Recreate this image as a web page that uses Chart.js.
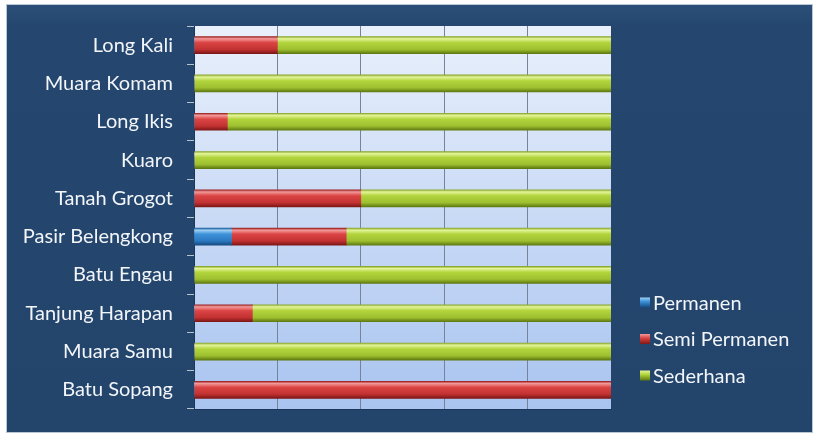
<!DOCTYPE html>
<html>
<head>
<meta charset="utf-8">
<script src="https://cdn.jsdelivr.net/npm/chart.js@4.4.1/dist/chart.umd.min.js"></script>
<style>
html,body{margin:0;padding:0;background:#ffffff;}
#wrap{position:absolute;left:0;top:0;width:815px;height:435px;}
</style>
</head>
<body>
<div id="wrap"><canvas id="c" width="815" height="435"></canvas></div>
<script>
const categories = ["Long Kali","Muara Komam","Long Ikis","Kuaro","Tanah Grogot","Pasir Belengkong","Batu Engau","Tanjung Harapan","Muara Samu","Batu Sopang"];
const seriesNames = ["Permanen","Semi Permanen","Sederhana"];
const permanen     = [0, 0, 0, 0, 0, 9, 0, 0, 0, 0];
const semiPermanen = [20, 0, 8, 0, 40, 27.5, 0, 14, 0, 100];
const sederhana    = [80, 100, 92, 100, 60, 63.5, 100, 86, 100, 0];
const xTicks = [0, 20, 40, 60, 80, 100];

const palettes = [
  {top:'#1d5f9e', hi:'#9fd0f5', mid:'#3d92da', low:'#2a78c0', bot:'#164a80'},
  {top:'#9c2020', hi:'#f39a9a', mid:'#dc4444', low:'#c23232', bot:'#7e1616'},
  {top:'#8aa82a', hi:'#e4f59a', mid:'#b2d43c', low:'#9ec030', bot:'#5e7a10'}
];
const BAR_H = 17;

function barGradient(ctx, p){
  const chart = ctx.chart;
  const ys = chart.scales && chart.scales.y;
  if(!chart.chartArea || !ys) return p.mid;
  const yc = ys.getPixelForValue(ctx.dataIndex);
  const g = chart.ctx.createLinearGradient(0, yc - BAR_H/2, 0, yc + BAR_H/2);
  g.addColorStop(0, p.top);
  g.addColorStop(0.12, p.hi);
  g.addColorStop(0.35, p.mid);
  g.addColorStop(0.75, p.low);
  g.addColorStop(1, p.bot);
  return g;
}

const panelPlugin = {
  id:'panel',
  beforeDraw(chart){
    const c = chart.ctx, a = chart.chartArea;
    c.save();
    c.fillStyle = '#ffffff';
    c.fillRect(0,0,chart.width,chart.height);
    const pg = c.createLinearGradient(0,5,0,432);
    pg.addColorStop(0,'#2b4f78');
    pg.addColorStop(0.05,'#25476f');
    pg.addColorStop(1,'#23446b');
    c.fillStyle = pg;
    c.fillRect(7,5,805,427);
    c.strokeStyle = '#b9c6d3';
    c.lineWidth = 1;
    c.strokeRect(6.5,4.5,806,428);
    const g = c.createLinearGradient(0,a.top,0,a.bottom);
    g.addColorStop(0,'#e9f0fb');
    g.addColorStop(1,'#a9c4f0');
    c.fillStyle = g;
    c.fillRect(a.left,a.top,a.right-a.left,a.bottom-a.top);
    c.restore();
  },
  afterDraw(chart){
    const c = chart.ctx;
    const ys = [302.5, 339, 375.5];
    c.save();
    c.font = '20px Lato';
    c.textBaseline = 'middle';
    c.textAlign = 'left';
    chart.data.datasets.forEach((ds,i)=>{
      const p = palettes[i];
      const y = ys[i];
      const g = c.createLinearGradient(0,y-5,0,y+5);
      g.addColorStop(0,p.hi); g.addColorStop(0.4,p.mid); g.addColorStop(1,p.bot);
      c.fillStyle = g;
      c.fillRect(640, y-5, 10, 10);
      c.fillStyle = '#f2f5f9';
      c.fillText(ds.label, 653, y+1);
    });
    c.restore();
  }
};

const datasets = [permanen, semiPermanen, sederhana].map((arr,i)=>({
  label: seriesNames[i],
  data: arr,
  backgroundColor: (ctx)=>barGradient(ctx, palettes[i]),
  borderWidth: 0,
  barThickness: BAR_H
}));

new Chart(document.getElementById('c'), {
  type:'bar',
  data:{labels:categories, datasets},
  options:{
    indexAxis:'y',
    responsive:false,
    animation:false,
    devicePixelRatio:1,
    layout:{padding:{left:0, top:26, right:204, bottom:24}},
    plugins:{legend:{display:false}, tooltip:{enabled:false}},
    scales:{
      x:{
        stacked:true, min:0, max:100,
        afterBuildTicks(scale){ scale.ticks = xTicks.map(v=>({value:v})); },
        afterFit(scale){ scale.height = 0; },
        ticks:{display:false},
        grid:{color:(c)=> (c.tick && (c.tick.value===0 || c.tick.value===100)) ? 'rgba(0,0,0,0)' : '#76849a', drawTicks:false, lineWidth:1},
        border:{display:true, color:'#1b3656', width:1}
      },
      y:{
        stacked:true,
        afterFit(scale){ scale.width = 194; },
        ticks:{color:'#f2f5f9', font:{family:'Lato', size:20}, padding:14},
        grid:{drawOnChartArea:false, tickLength:7, color:'#b8c2cc', offset:true},
        border:{display:true, color:'#1b3656', width:1}
      }
    }
  },
  plugins:[panelPlugin]
});
</script>
</body>
</html>
